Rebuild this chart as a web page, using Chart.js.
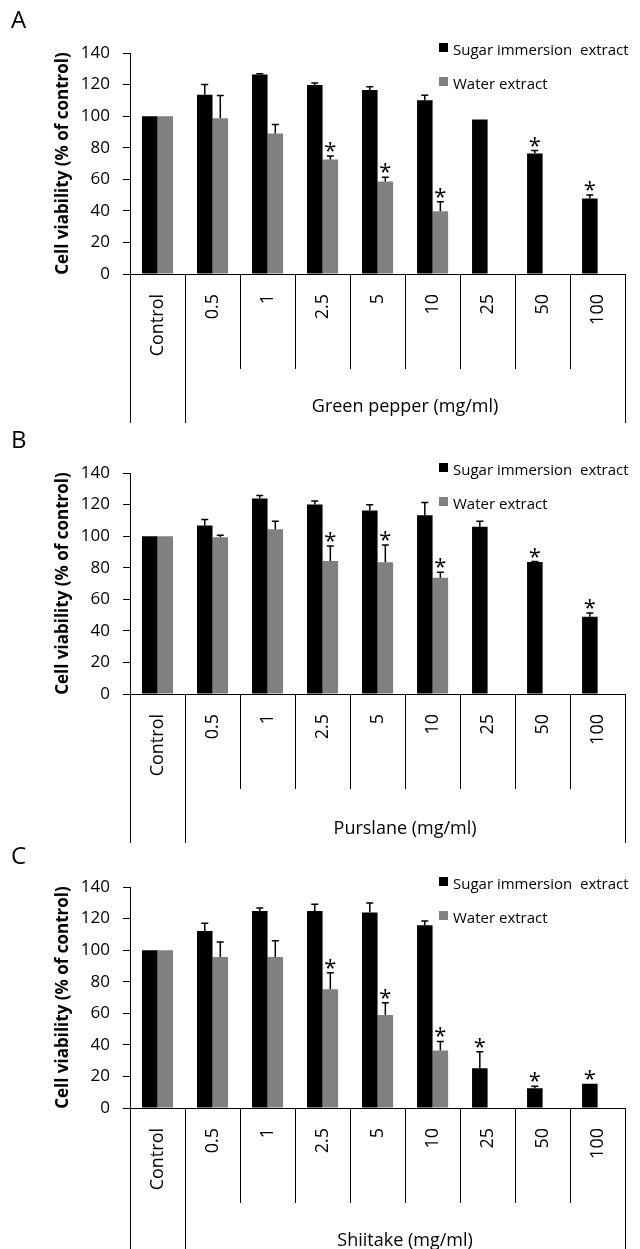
<!DOCTYPE html>
<html lang="en">
<head>
<meta charset="UTF-8">
<title>Cell viability</title>
<script src="https://cdn.jsdelivr.net/npm/chart.js"></script>
<style>
  body { margin: 0; background: #fff; }
  .panel { position: absolute; left: 0; }
</style>
</head>
<body>
<canvas id="chartA" class="panel" width="640" height="424" style="top:0px"></canvas>
<canvas id="chartB" class="panel" width="640" height="424" style="top:420px"></canvas>
<canvas id="chartC" class="panel" width="640" height="415" style="top:834px"></canvas>
<script>
// categories (mg/ml)
const doses = ['Control', '0.5', '1', '2.5', '5', '10', '25', '50', '100'];
const yTicks = [0, 20, 40, 60, 80, 100, 120, 140];

// A: green pepper
const sugarA    = [100, 113.5, 126.4, 119.7, 116.5, 110.0, 97.9, 76.3, 47.8];
const sugarErrA = [0, 6.5, 0.4, 1.3, 2.1, 3.3, 0, 1.9, 2.3];
const waterA    = [100, 98.7, 89.0, 72.5, 58.6, 39.7, null, null, null];
const waterErrA = [0, 14.3, 5.7, 2.3, 2.7, 6.0, 0, 0, 0];
const sugarStarA = [0, 0, 0, 0, 0, 0, 0, 1, 1];
const waterStarA = [0, 0, 0, 1, 1, 1, 0, 0, 0];

// B: purslane
const sugarB    = [100, 106.7, 123.9, 120.0, 116.2, 113.3, 105.9, 83.6, 49.0];
const sugarErrB = [0, 3.8, 1.9, 2.2, 3.7, 8.0, 3.6, 0.3, 2.3];
const waterB    = [100, 99.3, 104.4, 84.2, 83.4, 73.6, null, null, null];
const waterErrB = [0, 1.3, 5.1, 9.6, 11.0, 3.6, 0, 0, 0];
const sugarStarB = [0, 0, 0, 0, 0, 0, 0, 1, 1];
const waterStarB = [0, 0, 0, 1, 1, 1, 0, 0, 0];

// C: shiitake
const sugarC    = [100, 112.1, 124.8, 124.8, 123.9, 115.7, 25.2, 12.5, 15.3];
const sugarErrC = [0, 4.9, 1.9, 4.2, 6.0, 2.7, 10.4, 1.3, 0];
const waterC    = [100, 95.6, 95.6, 75.2, 58.9, 36.4, null, null, null];
const waterErrC = [0, 9.5, 10.3, 10.4, 7.8, 5.8, 0, 0, 0];
const sugarStarC = [0, 0, 0, 0, 0, 0, 1, 1, 1];
const waterStarC = [0, 0, 0, 1, 1, 1, 0, 0, 0];

Chart.defaults.font.family = "'Open Sans', sans-serif";
Chart.defaults.color = '#000';

// error bars (upper only) and significance stars
const errorBars = {
  id: 'errorBars',
  afterDatasetsDraw(chart) {
    const ctx = chart.ctx;
    const y = chart.scales.y;
    chart.data.datasets.forEach((ds, di) => {
      chart.getDatasetMeta(di).data.forEach((bar, i) => {
        const v = ds.data[i];
        if (v == null) return;
        const err = ds.errors[i] || 0;
        const top = y.getPixelForValue(v + err);
        ctx.save();
        ctx.strokeStyle = '#000';
        ctx.lineWidth = 1.5;
        if (err > 0) {
          ctx.beginPath();
          ctx.moveTo(bar.x, bar.y);
          ctx.lineTo(bar.x, top);
          ctx.moveTo(bar.x - 3.5, top);
          ctx.lineTo(bar.x + 3.5, top);
          ctx.stroke();
        }
        if (ds.stars[i]) {
          ctx.fillStyle = '#000';
          ctx.font = "22px 'Open Sans'";
          ctx.textAlign = 'center';
          ctx.textBaseline = 'alphabetic';
          ctx.fillText('*', bar.x, top + 2);
        }
        ctx.restore();
      });
    });
  }
};

// panel letter, legend, two-level category lines and group label
const decor = {
  id: 'decor',
  afterDraw(chart, args, opts) {
    const ctx = chart.ctx;
    const x = chart.scales.x;
    const area = chart.chartArea;
    ctx.save();
    ctx.fillStyle = '#000';
    ctx.font = "24px 'Open Sans'";
    ctx.textBaseline = 'alphabetic';
    ctx.fillText(opts.letter, 11, opts.letterY);

    ctx.font = "15px 'Open Sans'";
    ctx.textBaseline = 'middle';
    chart.data.datasets.forEach((ds, i) => {
      const ty = area.top - 2 + i * 34;
      ctx.fillStyle = ds.backgroundColor;
      ctx.fillRect(439, ty - 8, 9, 9);
      ctx.fillStyle = '#000';
      ctx.fillText(ds.label, 453, ty);
    });

    const step = x.getPixelForValue(1) - x.getPixelForValue(0);
    const first = x.getPixelForValue(0) - step / 2;
    ctx.strokeStyle = '#000';
    ctx.lineWidth = 1;
    ctx.beginPath();
    for (let i = 0; i <= doses.length; i++) {
      const bx = Math.round(first + i * step) + 0.5;
      const long = i === 0 || i === 1 || i === doses.length;
      ctx.moveTo(bx, x.top);
      ctx.lineTo(bx, x.top + (long ? 149 : 95));
    }
    ctx.stroke();

    ctx.font = "18px 'Open Sans'";
    ctx.textAlign = 'center';
    ctx.fillText(opts.group, (x.getPixelForValue(1) + x.getPixelForValue(doses.length - 1)) / 2, x.top + opts.groupDy);
    ctx.restore();
  }
};

function makePanel(id, letter, letterY, group, groupDy, sugar, sugarErr, sugarStar, water, waterErr, waterStar) {
  const canvas = document.getElementById(id);
  const h = canvas.height;
  return new Chart(canvas, {
    type: 'bar',
    data: {
      labels: doses,
      datasets: [
        { label: 'Sugar immersion  extract', data: sugar, errors: sugarErr, stars: sugarStar,
          backgroundColor: '#000000' },
        { label: 'Water extract', data: water, errors: waterErr, stars: waterStar,
          backgroundColor: '#808080' }
      ]
    },
    options: {
      responsive: false,
      animation: false,
      devicePixelRatio: 1,
      layout: { padding: { top: 53, right: 14, left: 0, bottom: 0 } },
      datasets: { bar: { categoryPercentage: 0.565, barPercentage: 1 } },
      plugins: {
        legend: { display: false },
        tooltip: { enabled: false },
        decor: { letter: letter, letterY: letterY, group: group, groupDy: groupDy }
      },
      scales: {
        x: {
          grid: { display: true, drawOnChartArea: false, drawTicks: false },
          border: { display: true, color: '#000', width: 1 },
          ticks: { autoSkip: false, minRotation: 90, maxRotation: 90, padding: 20,
                   font: { size: 18 }, color: '#000' },
          afterFit(scale) { scale.height = h - 274; }
        },
        y: {
          min: 0, max: 140,
          afterBuildTicks(scale) { scale.ticks = yTicks.map(v => ({ value: v })); },
          grid: { drawOnChartArea: false, drawTicks: true, tickLength: 7, color: '#000' },
          border: { display: true, color: '#000', width: 1 },
          ticks: { padding: 13, font: { size: 17 }, color: '#000' },
          title: { display: true, text: 'Cell viability (% of control)',
                   font: { size: 17, weight: 'bold' }, color: '#000', padding: { top: 53, bottom: 0 } },
          afterFit(scale) { scale.width = 130; }
        }
      }
    },
    plugins: [errorBars, decor]
  });
}

makePanel('chartA', 'A', 28, 'Green pepper (mg/ml)', 133, sugarA, sugarErrA, sugarStarA, waterA, waterErrA, waterStarA);
makePanel('chartB', 'B', 28, 'Purslane (mg/ml)', 135, sugarB, sugarErrB, sugarStarB, waterB, waterErrB, waterStarB);
makePanel('chartC', 'C', 30, 'Shiitake (mg/ml)', 133, sugarC, sugarErrC, sugarStarC, waterC, waterErrC, waterStarC);
</script>
</body>
</html>
